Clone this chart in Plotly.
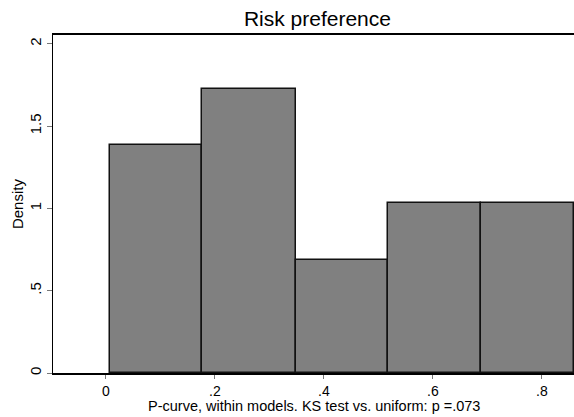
import plotly.graph_objects as go

bin_edges = [0.0073, 0.177, 0.348, 0.518, 0.689, 0.859]
densities = [1.384, 1.725, 0.688, 1.035, 1.035]
x_tickvals = [0, 0.2, 0.4, 0.6, 0.8]
x_ticktext = ["0", ".2", ".4", ".6", ".8"]
y_tickvals = [0, 0.5, 1, 1.5, 2]
y_ticktext = ["0", ".5", "1", "1.5", "2"]
x_title = "P-curve, within models. KS test vs. uniform: p =.073"
y_title = "Density"
chart_title = "Risk preference"

centers = [(a + b) / 2 for a, b in zip(bin_edges[:-1], bin_edges[1:])]
widths = [b - a for a, b in zip(bin_edges[:-1], bin_edges[1:])]

fig = go.Figure()
fig.add_trace(go.Bar(
    x=centers, y=densities, width=widths,
    marker=dict(color="#808080", line=dict(color="#111111", width=1.5)),
    showlegend=False,
))

font = "Liberation Sans, Arial, sans-serif"
fig.update_layout(
    width=574, height=417,
    margin=dict(l=53, r=0, t=35, b=44),
    paper_bgcolor="white", plot_bgcolor="white",
    font=dict(family=font, color="black", size=15),
    title=dict(text=chart_title, x=0.553, xanchor="center", y=0.955, yanchor="middle",
               font=dict(size=21, family=font, color="black")),
    bargap=0,
    xaxis=dict(range=[-0.097, 0.859], tickvals=x_tickvals, ticktext=x_ticktext,
               showline=True, linecolor="black", linewidth=1.5, mirror=True,
               ticks="outside", ticklen=4, tickcolor="#777777", tickwidth=1,
               showgrid=False, zeroline=False,
               tickfont=dict(size=14)),
    yaxis=dict(range=[0, 2.054], tickvals=y_tickvals, ticktext=y_ticktext,
               showline=True, linecolor="black", linewidth=1.2,
               ticks="outside", ticklen=5, tickcolor="#777777", tickwidth=1,
               showgrid=False, zeroline=False, tickangle=-90,
               tickfont=dict(size=15)),
    annotations=[
        dict(text=x_title, xref="paper", yref="paper", x=0.5, y=-0.097,
             xanchor="center", yanchor="middle", showarrow=False,
             font=dict(size=14.5, family=font, color="black")),
        dict(text=y_title, xref="paper", yref="paper", x=-0.069, y=0.5,
             xanchor="center", yanchor="middle", showarrow=False, textangle=-90,
             font=dict(size=15, family=font, color="black")),
    ],
)

fig.write_html("out.html")
